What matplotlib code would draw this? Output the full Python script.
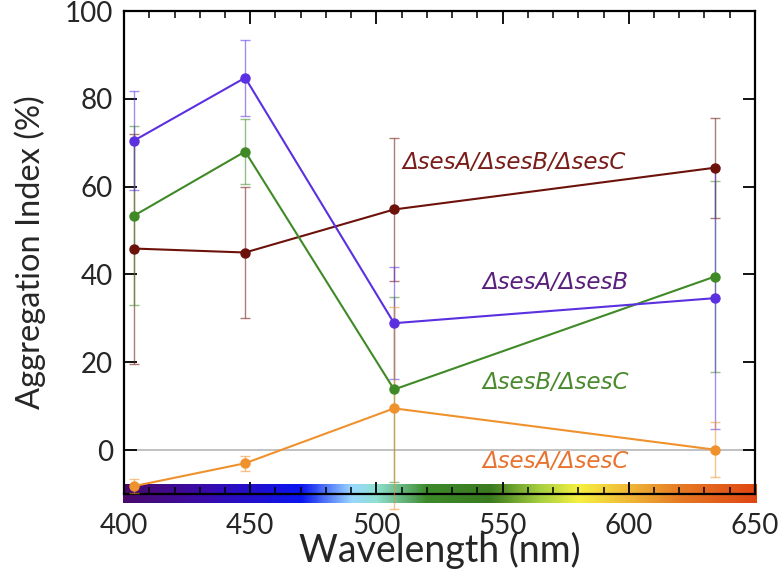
import matplotlib.pyplot as plt
import numpy as np
from matplotlib.colors import LinearSegmentedColormap, to_rgba
from matplotlib.ticker import MultipleLocator

plt.rcParams['font.family'] = ['Lato', 'DejaVu Sans']

# ---- data ----
wavelength = [404, 448, 507, 634]

ab = [70.5, 84.8, 28.9, 34.6]          # ΔsesA/ΔsesB
ab_err = [11.2, 8.7, 12.8, 29.8]
bc = [53.4, 68.0, 13.8, 39.5]          # ΔsesB/ΔsesC
bc_err = [20.4, 7.3, 21.0, 21.8]
abc = [45.9, 45.0, 54.8, 64.3]         # ΔsesA/ΔsesB/ΔsesC
abc_err = [26.2, 15.0, 16.3, 11.4]
ac = [-8.2, -3.0, 9.5, 0.1]            # ΔsesA/ΔsesC
ac_err = [1.6, 1.7, 23.0, 6.3]

series = [
    (abc, abc_err, '#6c120b', 'ΔsesA/ΔsesB/ΔsesC', '#7a1d18', 510.5, 65.5),
    (bc, bc_err, '#3f8a27', 'ΔsesB/ΔsesC', '#4a8a2e', 542.0, 15.5),
    (ab, ab_err, '#5a30e0', 'ΔsesA/ΔsesB', '#5a1e7c', 542.0, 38.2),
    (ac, ac_err, '#ef922e', 'ΔsesA/ΔsesC', '#e8732e', 542.0, -2.7),
]

# visible-spectrum strip under the x axis
spec_nm = [400, 430, 470, 490, 500, 520, 545, 565, 580, 600, 620, 650]
spec_col = ['#4a0a6a', '#3a0aa8', '#0a14f0', '#9ad8ff', '#8ee0d0', '#3d8a2a',
            '#3a7a20', '#a8d040', '#f6f040', '#f0b838', '#e67a24', '#e04612']

TEXT = '#262626'

fig = plt.figure(figsize=(7.83, 5.74), dpi=100)
ax = fig.add_axes([0.1584, 0.1394, 0.8058, 0.8414])

pos = [(n - 400) / 250 for n in spec_nm]
cmap = LinearSegmentedColormap.from_list('spec', list(zip(pos, spec_col)))
ax.imshow(np.linspace(0, 1, 500)[None, :], cmap=cmap, aspect='auto',
          extent=[399.6, 650.8, -12.1, -8.0], clip_on=False, zorder=1,
          interpolation='bilinear')

ax.axhline(0, color='#b0b0b0', lw=1.1, zorder=1.5)

for vals, err, col, label, tcol, tx, ty in series:
    ax.errorbar(wavelength, vals, yerr=err, color=col, lw=1.5, marker='o',
                ms=6.5, ecolor=to_rgba(col, 0.55), elinewidth=1.0,
                capsize=3.5, capthick=1.0, zorder=3, clip_on=False)
    ax.text(tx, ty, label, color=tcol, fontsize=16.5, style='italic',
            family=['DejaVu Sans'], ha='left', va='center', zorder=4)

ax.set_xlim(400, 650)
ax.set_ylim(-10, 100)
ax.xaxis.set_major_locator(MultipleLocator(50))
ax.xaxis.set_minor_locator(MultipleLocator(10))
ax.yaxis.set_major_locator(MultipleLocator(20))
ax.tick_params(axis='both', which='major', direction='in', length=9,
               width=1.3, labelsize=20, labelcolor=TEXT, top=True,
               right=True, pad=14)
ax.tick_params(axis='y', which='major', pad=8)
ax.tick_params(axis='x', which='minor', direction='in', length=5, width=1.1,
               top=True)
for s in ax.spines.values():
    s.set_linewidth(1.6)
    s.set_zorder(2.5)

ax.set_xlabel('Wavelength (nm)', fontsize=27, color=TEXT, va='baseline')
ax.xaxis.set_label_coords(0.5, -0.141)
ax.set_ylabel('Aggregation Index (%)', fontsize=23.5, color=TEXT, labelpad=13)

fig.savefig('out.png', dpi=100)
